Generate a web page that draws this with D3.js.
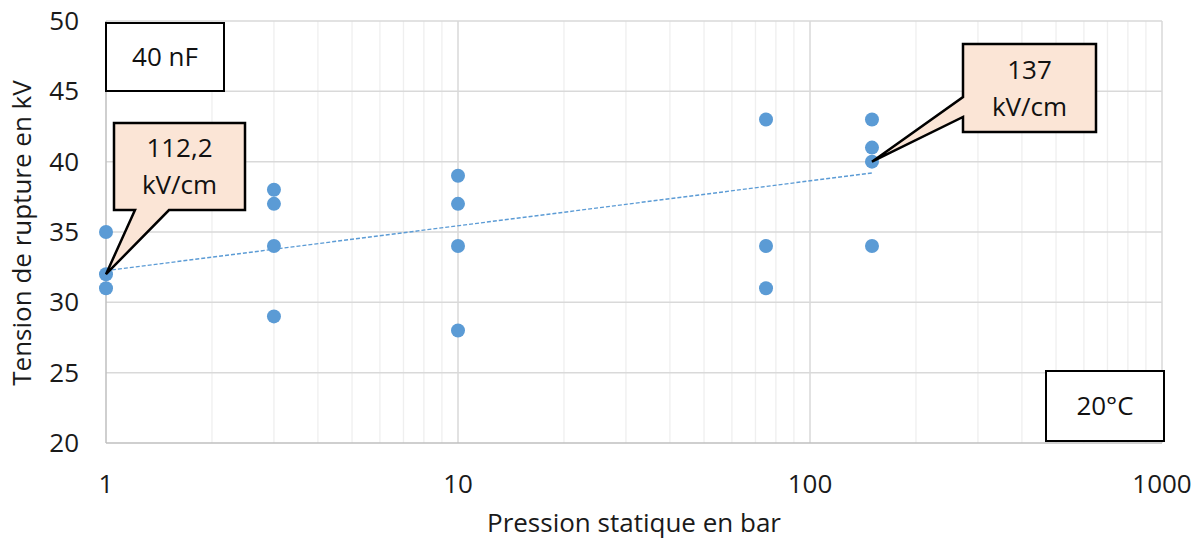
<!DOCTYPE html>
<html><head><meta charset="utf-8">
<script src="https://cdn.jsdelivr.net/npm/d3@7"></script>
<style>body{margin:0;background:#fff}svg{display:block}</style>
</head><body>
<svg id="c" width="1203" height="542"></svg>
<script>
const pressure = [1,1,1, 3,3,3,3, 10,10,10,10, 75,75,75, 150,150,150,150];
const voltage  = [35,32,31, 38,37,34,29, 39,37,34,28, 43,34,31, 43,41,40,34];
const trendX = [1, 150];
const trendY = [32.25, 39.2];
const yTicks = [20,25,30,35,40,45,50];
const xTicks = [1,10,100,1000];
const callouts = [
  {lines:["112,2","kV/cm"], px:1, v:32},
  {lines:["137","kV/cm"], px:150, v:40}
];
const font = "'Open Sans', sans-serif";
const fs = 26;

const svg = d3.select("#c");
const L=106, R=1162, T=21, B=443;
const x = d3.scaleLog().domain([1,1000]).range([L,R]);
const y = d3.scaleLinear().domain([20,50]).range([B,T]);

// minor vertical grid
const minor=[];
for(let d=1; d<1000; d*=10) for(let k=2;k<=9;k++) minor.push(d*k);
svg.append("g").selectAll("line").data(minor).join("line")
  .attr("x1",d=>x(d)).attr("x2",d=>x(d)).attr("y1",T).attr("y2",B)
  .attr("stroke","#efefef").attr("stroke-width",1.3);
svg.append("g").selectAll("line").data(xTicks.slice(1)).join("line")
  .attr("x1",d=>x(d)).attr("x2",d=>x(d)).attr("y1",T).attr("y2",B)
  .attr("stroke","#d9d9d9").attr("stroke-width",1.5);
svg.append("g").selectAll("line").data(yTicks.slice(1)).join("line")
  .attr("x1",L).attr("x2",R).attr("y1",d=>y(d)).attr("y2",d=>y(d))
  .attr("stroke","#d9d9d9").attr("stroke-width",1.5);
// axis lines
svg.append("line").attr("x1",L).attr("x2",L).attr("y1",T).attr("y2",B).attr("stroke","#bfbfbf").attr("stroke-width",1.5);
svg.append("line").attr("x1",L).attr("x2",R).attr("y1",B).attr("y2",B).attr("stroke","#bfbfbf").attr("stroke-width",1.5);

// tick labels
svg.append("g").selectAll("text").data(yTicks).join("text")
  .attr("x",79).attr("y",d=>y(d)).attr("dy","0.35em").attr("text-anchor","end")
  .attr("font-family",font).attr("font-size",fs).attr("fill","#1a1a1a").text(d=>d);
svg.append("g").selectAll("text").data(xTicks).join("text")
  .attr("x",d=>x(d)).attr("y",484).attr("dy","0.35em").attr("text-anchor","middle")
  .attr("font-family",font).attr("font-size",fs).attr("fill","#1a1a1a").text(d=>d);

svg.append("text").attr("x",634).attr("y",523).attr("dy","0.35em").attr("text-anchor","middle")
  .attr("font-family",font).attr("font-size",fs).attr("fill","#1a1a1a").text("Pression statique en bar");
svg.append("text").attr("transform","translate(22,233) rotate(-90)").attr("dy","0.35em").attr("text-anchor","middle")
  .attr("font-family",font).attr("font-size",fs).attr("fill","#1a1a1a").text("Tension de rupture en kV");

// trend line
svg.append("path").datum(trendX.map((d,i)=>[d,trendY[i]]))
  .attr("d",d3.line().x(d=>x(d[0])).y(d=>y(d[1])))
  .attr("fill","none").attr("stroke","#5b9bd5").attr("stroke-width",1.4).attr("stroke-dasharray","4,2");

// points
svg.append("g").selectAll("circle").data(pressure.map((p,i)=>[p,voltage[i]])).join("circle")
  .attr("cx",d=>x(d[0])).attr("cy",d=>y(d[1])).attr("r",7).attr("fill","#5b9bd5");

// plain boxes
function box(x0,y0,w,h,txt){
  svg.append("rect").attr("x",x0).attr("y",y0).attr("width",w).attr("height",h)
    .attr("fill","#fff").attr("stroke","#000").attr("stroke-width",2);
  svg.append("text").attr("x",x0+w/2).attr("y",y0+h/2).attr("dy","0.35em").attr("text-anchor","middle")
    .attr("font-family",font).attr("font-size",fs).attr("fill","#111").text(txt);
}
box(106,23,118,68,"40 nF");
box(1046,371,118,70,"20°C");

// callouts
function callout(c, bx, by, w, h, ptr){
  const tx=x(c.px), ty=y(c.v);
  let pts;
  if(ptr==="bottom"){
    pts=[[bx,by],[bx+w,by],[bx+w,by+h],[bx+55,by+h],[tx,ty],[bx+21,by+h],[bx,by+h]];
  } else {
    pts=[[bx,by],[bx+w,by],[bx+w,by+h],[bx,by+h],[bx,by+73],[tx,ty],[bx,by+53]];
  }
  svg.append("path").attr("d",d3.line()(pts)+"Z")
    .attr("fill","#fbe5d6").attr("stroke","#000").attr("stroke-width",2.5).attr("stroke-linejoin","miter");
  svg.append("g").selectAll("text").data(c.lines).join("text")
    .attr("x",bx+w/2).attr("y",(d,i)=>by+h/2+(i-0.5)*37).attr("dy","0.35em").attr("text-anchor","middle")
    .attr("font-family",font).attr("font-size",fs).attr("fill","#111").text(d=>d);
}
callout(callouts[0],114,123,131,87,"bottom");
callout(callouts[1],963,44,133,88,"left");
</script>
</body></html>
